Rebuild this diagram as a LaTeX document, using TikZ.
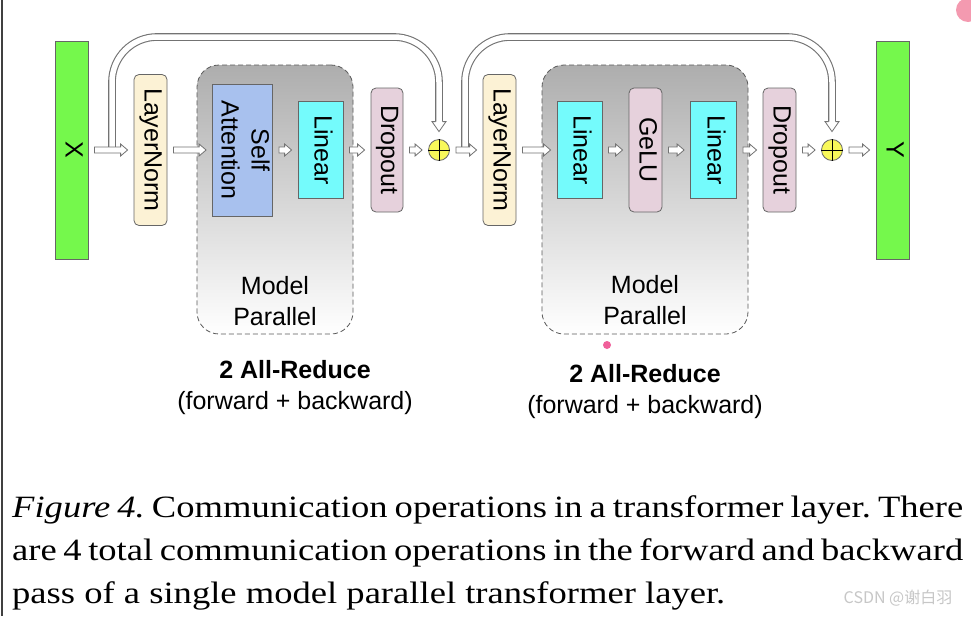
\documentclass[tikz,border=0pt]{standalone}
\usepackage{fontspec}
\setmainfont{Liberation Sans}
\newfontfamily\capfont[FakeStretch=1.18]{Liberation Serif}
\newfontfamily\cjkfont{Noto Sans CJK SC}
\usepackage{graphicx}
\usepackage{tikz}
\usetikzlibrary{calc,positioning,shapes}
\usepackage{xcolor}
\definecolor{iogreen}{HTML}{75F84C}
\definecolor{normcream}{HTML}{FCF2D5}
\definecolor{attnblue}{HTML}{A8C1EE}
\definecolor{lincyan}{HTML}{74FBFC}
\definecolor{droppink}{HTML}{E6D1DC}
\definecolor{sumyellow}{HTML}{F8F85A}
\definecolor{markpink}{HTML}{F0609A}
\definecolor{iconpink}{HTML}{F49AB0}
\newcommand*{\vlabel}[1]{\rotatebox{-90}{\begin{tabular}{@{}c@{}}#1\end{tabular}}}
\frenchspacing

\tikzset{
  block/.style={draw=black!60, line width=0.8pt, inner sep=0pt, font=\fontsize{25}{30}\selectfont},
  roundblock/.style={block, rounded corners=5pt},
  mpbox/.style={draw=black!65, line width=0.8pt, dash pattern=on 5pt off 3pt, rounded corners=22pt,
    top color=black!32, bottom color=white, inner sep=0pt},
  sumnode/.style={circle, draw=black!60, fill=sumyellow, line width=0.8pt, minimum size=21pt, inner sep=0pt},
  flowline/.style={fill=white, draw=black!55, line width=0.8pt, line join=miter},
  skipline/.style={draw=black!55, line width=1.1pt, double=white, double distance=5.5pt, rounded corners=45pt},
  sans/.style={font=\fontsize{25}{31}\selectfont, align=center, inner sep=0pt},
  capline/.style={font=\capfont\fontsize{31}{43}\selectfont, anchor=base west, inner sep=0pt}
}

\begin{document}
\begin{tikzpicture}[x=1pt,y=-1pt]
\newcommand*{\flowarrow}[2]{%
  \filldraw[flowline] let \p1=(#1), \p2=(#2) in
    (\x1+6pt,\y1+3pt) -- (\x2-13pt,\y1+3pt) -- (\x2-13pt,\y1+6pt) -- (\x2-6pt,\y1)
    -- (\x2-13pt,\y1-6pt) -- (\x2-13pt,\y1-3pt) -- (\x1+6pt,\y1-3pt) -- cycle;}
\newcommand*{\skiphead}[1]{%
  \filldraw[flowline] let \p1=(#1.north) in
    (\x1-3.5pt,\y1+17.5pt) -- (\x1-7pt,\y1+17.5pt) -- (\x1,\y1+7.5pt)
    -- (\x1+7pt,\y1+17.5pt) -- (\x1+3.5pt,\y1+17.5pt);}
\useasboundingbox (0,0) rectangle (971,616);
\fill[white] (0,0) rectangle (971,616);
\draw[black!75, line width=2pt] (2,0) -- (2,616);

% model parallel regions
\node[mpbox, minimum width=156pt, minimum height=269pt] (mp1) at (275,199.5) {};
\node[mpbox, minimum width=206pt, minimum height=269pt] (mp2) at (645,199.5) {};
\node[sans] (mp1lbl) at (275,301) {Model\\Parallel};
\node[sans] (mp2lbl) at (645,300) {Model\\Parallel};

% attention part
\node[block, fill=iogreen, minimum width=33pt, minimum height=218pt] (x) at (71.5,150) {\vlabel{X}};
\node[roundblock, fill=normcream, minimum width=33pt, minimum height=151pt] (ln1) at (150.5,150) {\vlabel{LayerNorm}};
\node[block, fill=attnblue, minimum width=57pt, minimum height=132pt] (sa) at (242.5,150) {\vlabel{Self\\Attention}};
\node[block, fill=lincyan, minimum width=45pt, minimum height=97pt] (lin1) at (320.5,150) {\vlabel{Linear}};
\node[roundblock, fill=droppink, minimum width=32pt, minimum height=124pt] (drop1) at (387,150) {\vlabel{Dropout}};
\node[sumnode] (plus1) at (439,150) {};

% mlp part
\node[roundblock, fill=normcream, minimum width=33pt, minimum height=151pt] (ln2) at (499.5,150) {\vlabel{LayerNorm}};
\node[block, fill=lincyan, minimum width=45pt, minimum height=97pt] (lin2) at (579.5,150) {\vlabel{Linear}};
\node[roundblock, fill=droppink, minimum width=33pt, minimum height=124pt] (gelu) at (645.5,150) {\vlabel{GeLU}};
\node[block, fill=lincyan, minimum width=46pt, minimum height=97pt] (lin3) at (713.5,150) {\vlabel{Linear}};
\node[roundblock, fill=droppink, minimum width=33pt, minimum height=124pt] (drop2) at (779.5,150) {\vlabel{Dropout}};
\node[sumnode] (plus2) at (832,150) {};
\node[block, fill=iogreen, minimum width=33pt, minimum height=218pt] (y) at (892.5,150) {\vlabel{Y}};

\foreach \s in {plus1,plus2}
  \draw[black, line width=0.7pt] (\s.north) -- (\s.south) (\s.west) -- (\s.east);

% residual connections
\coordinate (tap1) at (112,150);
\coordinate (tap2) at (465,150);
\coordinate (ceil) at (0,37);
\draw[skipline] (tap1) -- (tap1 |- ceil) -- (plus1 |- ceil) -- ($(plus1.north)+(0,-16.5)$);
\draw[skipline] (tap2) -- (tap2 |- ceil) -- (plus2 |- ceil) -- ($(plus2.north)+(0,-16.5)$);
\skiphead{plus1}
\skiphead{plus2}

% data flow
\flowarrow{x.east}{ln1.west}
\flowarrow{ln1.east}{sa.west}
\flowarrow{sa.east}{lin1.west}
\flowarrow{lin1.east}{drop1.west}
\flowarrow{drop1.east}{plus1.west}
\flowarrow{plus1.east}{ln2.west}
\flowarrow{ln2.east}{lin2.west}
\flowarrow{lin2.east}{gelu.west}
\flowarrow{gelu.east}{lin3.west}
\flowarrow{lin3.east}{drop2.west}
\flowarrow{drop2.east}{plus2.west}
\flowarrow{plus2.east}{y.west}

% communication notes
\node[sans] (ar1) at (295,387.5) {\textbf{2 All-Reduce}\\(forward + backward)};
\node[sans] (ar2) at (645,391.5) {\textbf{2 All-Reduce}\\(forward + backward)};

% caption
\node[capline] (cap1) at (12,517) {\makebox[951pt][s]{{\itshape Figure 4.} Communication operations in a transformer layer. There}};
\node[capline] (cap2) at (12,560) {\makebox[951pt][s]{are 4 total communication operations in the forward and backward}};
\node[capline] (cap3) at (12,603) {pass of a single model parallel transformer layer.};

% screen marks
\fill[markpink] (607,345) circle (4pt);
\fill[iconpink] (968,10) circle (12pt);
\node[font=\cjkfont\fontsize{16}{16}\selectfont, text=black!22, inner sep=0pt] (wm) at (898,598) {CSDN @谢白羽};
\end{tikzpicture}
\end{document}
